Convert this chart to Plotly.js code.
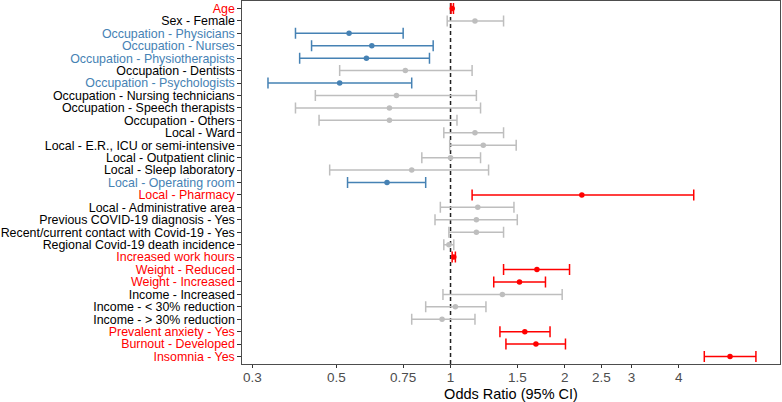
<!DOCTYPE html>
<html>
<head>
<meta charset="utf-8">
<script src="https://cdn.plot.ly/plotly-3.0.1.min.js"></script>
<style>html,body{margin:0;padding:0;background:#fff;}#chart{width:782px;height:402px;}</style>
</head>
<body>
<div id="chart"></div>
<script>
// Variables (top to bottom)
var labels = [
  "Age", "Sex - Female",
  "Occupation - Physicians", "Occupation - Nurses", "Occupation - Physiotherapists",
  "Occupation - Dentists", "Occupation - Psychologists", "Occupation - Nursing technicians",
  "Occupation - Speech therapists", "Occupation - Others",
  "Local - Ward", "Local - E.R., ICU or semi-intensive", "Local - Outpatient clinic",
  "Local - Sleep laboratory", "Local - Operating room", "Local - Pharmacy",
  "Local - Administrative area", "Previous COVID-19 diagnosis - Yes",
  "Recent/current contact with Covid-19 - Yes", "Regional Covid-19 death incidence",
  "Increased work hours", "Weight - Reduced", "Weight - Increased", "Income - Increased",
  "Income - < 30% reduction", "Income - > 30% reduction", "Prevalent anxiety - Yes",
  "Burnout - Developed", "Insomnia - Yes"
];
// Odds ratio and 95% CI
var oddsRatio = [1.01, 1.16, 0.54, 0.62, 0.60, 0.76, 0.51, 0.72, 0.69, 0.69,
                 1.16, 1.22, 1.00, 0.79, 0.68, 2.22, 1.18, 1.17, 1.17, 0.99,
                 1.02, 1.69, 1.52, 1.37, 1.03, 0.95, 1.57, 1.68, 5.46];
var ciLow =     [1.003, 0.98, 0.39, 0.43, 0.40, 0.51, 0.33, 0.44, 0.39, 0.45,
                 0.96, 0.995, 0.84, 0.48, 0.535, 1.14, 0.94, 0.91, 0.99, 0.96,
                 1.01, 1.38, 1.30, 0.955, 0.86, 0.79, 1.35, 1.40, 4.67];
var ciHigh =    [1.018, 1.38, 0.75, 0.90, 0.88, 1.14, 0.79, 1.17, 1.20, 1.04,
                 1.38, 1.49, 1.20, 1.26, 0.86, 4.38, 1.47, 1.50, 1.38, 1.02,
                 1.03, 2.06, 1.78, 1.97, 1.24, 1.16, 1.83, 2.01, 6.39];
// Effect direction: "risk" (OR>1 significant), "protective" (OR<1 significant), "ns"
var effect = ["risk", "ns", "protective", "protective", "protective", "ns", "protective", "ns", "ns", "ns",
              "ns", "ns", "ns", "ns", "protective", "risk", "ns", "ns", "ns", "ns",
              "risk", "risk", "risk", "ns", "ns", "ns", "risk", "risk", "risk"];
var xTicks = [0.3, 0.5, 0.75, 1, 1.5, 2, 2.5, 3, 4];

var colors = {risk: "#FF0000", protective: "#4682B4", ns: "#BEBEBE"};
var labelColors = {risk: "#FF0000", protective: "#4682B4", ns: "#000000"};

var order = ["ns", "protective", "risk"];
var traces = order.map(function (g) {
  var xs = [], ys = [], ep = [], em = [];
  labels.forEach(function (lab, i) {
    if (effect[i] === g) {
      xs.push(oddsRatio[i]); ys.push(lab);
      ep.push(ciHigh[i] - oddsRatio[i]); em.push(oddsRatio[i] - ciLow[i]);
    }
  });
  return {
    type: "scatter", mode: "markers", x: xs, y: ys,
    marker: {color: colors[g], size: 5.5},
    error_x: {type: "data", symmetric: false, array: ep, arrayminus: em,
              color: colors[g], thickness: 1.5, width: 5.5},
    hoverinfo: "x+y", showlegend: false
  };
});

var tickText = labels.map(function (lab, i) {
  var t = lab.replace(/</g, "&lt;").replace(/>/g, "&gt;");
  return '<span style="color:' + labelColors[effect[i]] + '">' + t + '</span>';
});

var layout = {
  width: 782, height: 402,
  margin: {l: 242, r: 2, t: 1, b: 38, pad: 0},
  paper_bgcolor: "#fff", plot_bgcolor: "#fff",
  font: {family: "Liberation Sans, Arial, sans-serif", color: "#000"},
  xaxis: {
    type: "log", range: [-0.550, 0.869],
    tickvals: xTicks, ticktext: xTicks.map(String),
    tickfont: {size: 13.5, color: "#4D4D4D"},
    ticks: "outside", ticklen: 3, tickcolor: "#333", tickwidth: 1,
    ticklabelstandoff: -2,
    showgrid: false, zeroline: false,
    showline: true, mirror: true, linecolor: "#4D4D4D", linewidth: 1.2,
    title: {text: "Odds Ratio (95% CI)", font: {size: 14.5, color: "#000"}, standoff: 6}
  },
  yaxis: {
    type: "category", categoryorder: "array", categoryarray: labels,
    range: [labels.length - 0.4, -0.6],
    tickvals: labels, ticktext: tickText,
    tickfont: {size: 12.4, color: "#000"},
    ticks: "outside", ticklen: 3.5, tickcolor: "#333", tickwidth: 1,
    showgrid: false, zeroline: false,
    showline: true, mirror: true, linecolor: "#4D4D4D", linewidth: 1.2
  },
  shapes: [{
    type: "line", xref: "x", yref: "paper", x0: 1, x1: 1, y0: 0, y1: 1,
    line: {color: "#222", width: 1.5, dash: "4px,3px"}, layer: "below"
  }]
};

Plotly.newPlot("chart", traces, layout, {displayModeBar: false, staticPlot: true});
</script>
</body>
</html>
